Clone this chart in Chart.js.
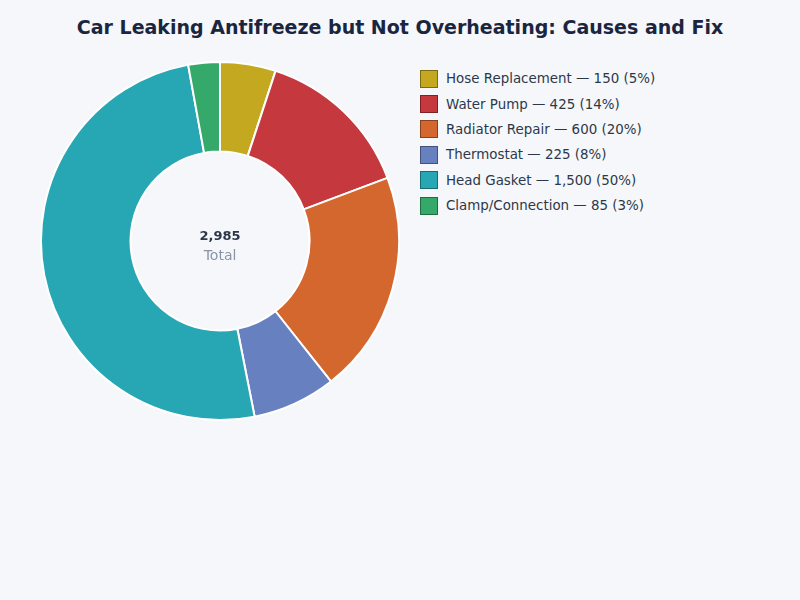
<!DOCTYPE html>
<html>
<head>
<meta charset="utf-8">
<script src="https://cdn.jsdelivr.net/npm/chart.js@4"></script>
<style>
  body { margin: 0; background: #f5f7fb; font-family: "DejaVu Sans", sans-serif; }
  #wrap { position: relative; width: 800px; height: 600px; }
  h1 { position: absolute; top: 16px; left: 0; width: 800px; margin: 0; text-align: center;
       font-size: 19px; font-weight: bold; color: #1a2540; }
  #chartBox { position: absolute; left: 40px; top: 61px; width: 360px; height: 360px; }
  #legend { position: absolute; left: 420px; top: 66px; list-style: none; margin: 0; padding: 0; }
  #legend li { display: flex; align-items: center; height: 25.4px; font-size: 13.4px; color: #2d3748; }
  #legend span.box { display: inline-block; width: 16px; height: 16px; margin-right: 8px; border: 1px solid; }
</style>
</head>
<body>
<div id="wrap">
  <h1>Car Leaking Antifreeze but Not Overheating: Causes and Fix</h1>
  <div id="chartBox"><canvas id="pieChart"></canvas></div>
  <ul id="legend"></ul>
</div>
<script>
const categories = ["Hose Replacement", "Water Pump", "Radiator Repair", "Thermostat", "Head Gasket", "Clamp/Connection"];
const values = [150, 425, 600, 225, 1500, 85];
const colors = ["#c4a820", "#c5383e", "#d3672e", "#6780c0", "#27a6b4", "#35a96a"];
const borderColors = ["#7d6b12", "#7e2226", "#87411c", "#42527b", "#186a73", "#216c43"];

const total = values.reduce((a, b) => a + b, 0);

// legend built from the arrays
const legendEl = document.getElementById("legend");
categories.forEach((name, i) => {
    const pct = Math.round(values[i] / total * 100);
    const li = document.createElement("li");
    li.innerHTML = `<span class="box" style="background:${colors[i]};border-color:${borderColors[i]}"></span>` +
        `${name} — ${values[i].toLocaleString("en-US")} (${pct}%)`;
    legendEl.appendChild(li);
});

// center label
const centerText = {
    id: "centerText",
    afterDraw(chart) {
        const { ctx } = chart;
        const meta = chart.getDatasetMeta(0).data[0];
        const x = meta.x, y = meta.y;
        ctx.save();
        ctx.textAlign = "center";
        ctx.textBaseline = "middle";
        ctx.fillStyle = "#2d3748";
        ctx.font = "bold 13px 'DejaVu Sans'";
        ctx.fillText(total.toLocaleString("en-US"), x, y - 4);
        ctx.fillStyle = "#8a94a6";
        ctx.font = "14px 'DejaVu Sans'";
        ctx.fillText("Total", x, y + 15);
        ctx.restore();
    }
};

new Chart(document.getElementById("pieChart").getContext("2d"), {
    type: "doughnut",
    data: {
        labels: categories,
        datasets: [{
            data: values,
            backgroundColor: colors,
            borderColor: "#ffffff",
            borderWidth: 2,
            hoverOffset: 0
        }]
    },
    options: {
        responsive: true,
        maintainAspectRatio: false,
        animation: false,
        cutout: "50%",
        plugins: {
            legend: { display: false },
            tooltip: { enabled: false }
        }
    },
    plugins: [centerText]
});
</script>
</body>
</html>
